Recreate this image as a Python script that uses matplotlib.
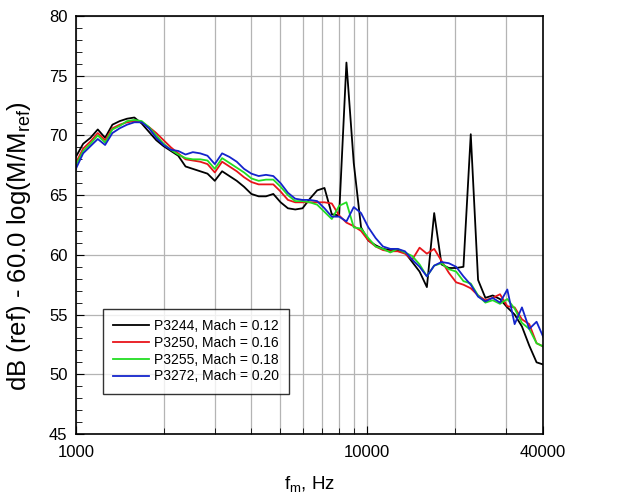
import numpy as np
import matplotlib.pyplot as plt
from matplotlib.ticker import FixedLocator, NullFormatter

plt.rcParams['font.family'] = ['Liberation Sans', 'DejaVu Sans']
plt.rcParams['mathtext.fontset'] = 'custom'
plt.rcParams['mathtext.rm'] = 'Liberation Sans'
plt.rcParams['mathtext.it'] = 'Liberation Sans'

# 1/12-octave band centres, 1 kHz .. 40 kHz
band = np.arange(65)
freq = 1000.0 * 2.0 ** (band / 12.0)

p3244 = [68.2, 69.3, 69.8, 70.5, 69.8, 70.9, 71.2, 71.4, 71.5, 71.0,
         70.3, 69.6, 69.1, 68.7, 68.3, 67.4, 67.2, 67.0, 66.8, 66.2,
         67.0, 66.6, 66.2, 65.7, 65.1, 64.9, 64.9, 65.1, 64.4, 63.9,
         63.8, 63.9, 64.7, 65.4, 65.6, 63.4, 63.3, 76.1, 67.7, 62.3,
         61.2, 60.8, 60.5, 60.4, 60.4, 60.2, 59.4, 58.6, 57.3, 63.5,
         59.2, 58.9, 58.9, 59.0, 70.1, 57.9, 56.4, 56.6, 56.3, 55.6,
         55.0, 54.0, 52.4, 51.0, 50.8]
p3250 = [67.7, 68.9, 69.5, 70.2, 69.6, 70.6, 70.9, 71.1, 71.2, 71.1,
         70.7, 70.2, 69.6, 69.0, 68.5, 68.0, 67.9, 67.8, 67.6, 66.9,
         67.8, 67.4, 67.0, 66.5, 66.1, 65.9, 65.9, 65.9, 65.3, 64.6,
         64.4, 64.4, 64.4, 64.4, 64.4, 64.3, 63.3, 62.7, 62.4, 62.0,
         61.2, 60.7, 60.4, 60.3, 60.3, 60.1, 59.6, 60.6, 60.1, 60.5,
         59.5, 58.5, 57.7, 57.5, 57.2, 56.6, 56.2, 56.4, 56.7, 55.7,
         55.6, 54.6, 54.2, 52.6, 52.3]
p3255 = [67.5, 68.7, 69.3, 70.0, 69.4, 70.5, 70.8, 71.2, 71.3, 71.2,
         70.7, 70.0, 69.3, 68.8, 68.4, 68.1, 68.0, 68.0, 67.9, 67.2,
         68.1, 67.7, 67.3, 66.9, 66.4, 66.2, 66.3, 66.3, 65.7, 65.0,
         64.5, 64.5, 64.4, 64.2, 63.6, 63.0, 64.1, 64.4, 62.3, 62.2,
         61.4, 60.7, 60.5, 60.2, 60.5, 60.2, 59.9, 59.2, 58.2, 59.1,
         59.3, 58.8, 58.6, 57.8, 57.6, 56.6, 56.0, 56.2, 55.9, 56.3,
         55.5, 54.3, 53.8, 52.6, 52.3]
p3272 = [67.2, 68.5, 69.1, 69.7, 69.2, 70.2, 70.6, 70.9, 71.1, 71.1,
         70.6, 69.8, 69.2, 68.8, 68.7, 68.4, 68.6, 68.5, 68.3, 67.6,
         68.5, 68.2, 67.8, 67.2, 66.8, 66.6, 66.7, 66.6, 66.0, 65.2,
         64.7, 64.6, 64.6, 64.5, 63.9, 63.2, 63.2, 62.8, 64.0, 63.5,
         62.3, 61.4, 60.7, 60.5, 60.5, 60.3, 59.6, 59.0, 58.2, 59.1,
         59.4, 59.3, 59.0, 58.2, 57.5, 56.5, 56.1, 56.4, 56.0, 57.1,
         54.2, 55.6, 53.8, 54.4, 53.0]

series = [
    (p3244, 'black', 'P3244, Mach = 0.12'),
    (p3250, '#e8141a', 'P3250, Mach = 0.16'),
    (p3255, '#22dd22', 'P3255, Mach = 0.18'),
    (p3272, '#1424cc', 'P3272, Mach = 0.20'),
]

fig = plt.figure(figsize=(6.32, 5.0), dpi=100)
ax = fig.add_axes([0.120, 0.132, 0.739, 0.836])

for vals, col, lab in series:
    ax.plot(freq, vals, color=col, lw=1.3, label=lab)

ax.set_xscale('log')
ax.set_xlim(1000, 40000)
ax.set_ylim(45, 80)

ax.xaxis.set_major_locator(FixedLocator([1000, 10000, 40000]))
ax.set_xticklabels(['1000', '10000', '40000'])
ax.xaxis.set_minor_locator(FixedLocator([2000, 3000, 4000, 5000, 6000, 7000,
                                         8000, 9000, 20000, 30000]))
ax.xaxis.set_minor_formatter(NullFormatter())
ax.set_yticks(np.arange(45, 81, 5))
ax.yaxis.set_minor_locator(FixedLocator(np.arange(45, 81, 1)))

# vertical grid at every x tick, horizontal only every 5 dB
ax.grid(True, axis='x', which='both', color='#b4b4b4', lw=0.9)
ax.grid(True, axis='y', which='major', color='#b4b4b4', lw=0.9)
ax.set_axisbelow(True)
ax.tick_params(which='both', direction='in', labelsize=12, top=False, right=False)
ax.tick_params(which='major', length=6)
ax.tick_params(which='minor', length=4)
ax.tick_params(axis='x', pad=8)
ax.tick_params(axis='y', pad=6)

for s in ax.spines.values():
    s.set_linewidth(1.2)

ax.set_xlabel('f$_\\mathregular{m}$, Hz', fontsize=13.5, labelpad=10)
ax.set_ylabel('dB (ref) - 60.0 log(M/M$_\\mathregular{ref}$)', fontsize=18.5)
ax.yaxis.set_label_coords(-0.092, 0.45)

leg = ax.legend(loc='lower left', bbox_to_anchor=(0.058, 0.096), fontsize=10,
                frameon=True, fancybox=False, edgecolor='black',
                handlelength=2.6, handletextpad=0.3, borderpad=0.75,
                labelspacing=0.2, borderaxespad=0)
leg.get_frame().set_linewidth(1.0)

fig.savefig('out.png', dpi=100)
